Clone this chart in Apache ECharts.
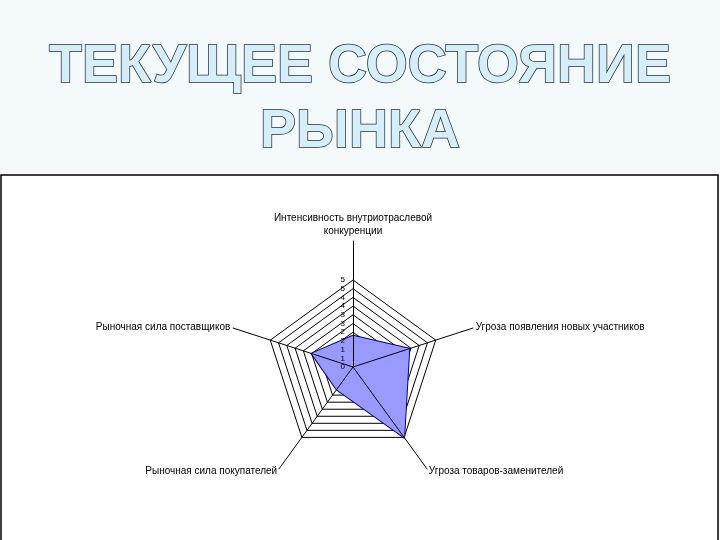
<!DOCTYPE html>
<html>
<head>
<meta charset="utf-8">
<script src="https://cdn.jsdelivr.net/npm/echarts@6/dist/echarts.min.js"></script>
<style>
html,body{margin:0;padding:0;background:#f4fafc;}
#c{width:720px;height:540px;}
</style>
</head>
<body>
<div id="c"></div>
<script>
// Data in Excel's clockwise order starting from the top
const titleText = 'ТЕКУЩЕЕ СОСТОЯНИЕ\nРЫНКА';
const categories = [
  'Интенсивность внутриотраслевой\nконкуренции',
  'Угроза появления новых участников',
  'Угроза товаров-заменителей',
  'Рыночная сила покупателей',
  'Рыночная сила поставщиков'
];
const values = [1.8, 3.4, 5, 1.6, 2.5];
const axisMax = 5;
const ringStep = 0.5;

// ECharts radar runs counter-clockwise: keep the first, reverse the rest
const order = [0, 4, 3, 2, 1];
const ccwNames = order.map(i => categories[i]);
const ccwValues = order.map(i => values[i]);

const chart = echarts.init(document.getElementById('c'));
const font = 'Liberation Sans, Arial, sans-serif';
const center = [353, 367];
const innerR = 87;

chart.setOption({
  backgroundColor: '#f4fafc',
  animation: false,
  title: {
    text: titleText,
    left: 'center',
    top: 30,
    textStyle: {
      fontFamily: font,
      fontSize: 54,
      fontWeight: 'bold',
      lineHeight: 65,
      color: '#d6eef9',
      textBorderColor: '#1b2735',
      textBorderWidth: 1.5,
      textShadowColor: 'rgba(70,80,95,0.9)',
      textShadowOffsetX: 3,
      textShadowOffsetY: 3,
      textShadowBlur: 0
    }
  },
  graphic: [{
    type: 'rect',
    z: -10,
    shape: {x: 1, y: 175, width: 717, height: 380},
    style: {fill: '#ffffff', stroke: '#000000', lineWidth: 1.5}
  }],
  radar: [
    {
      // outer spokes and category names, drawn over the filled area
      z: 5,
      center: center,
      radius: 126,
      shape: 'polygon',
      indicator: ccwNames.map(n => ({name: n, max: axisMax})),
      splitNumber: 1,
      axisName: {
        color: '#000',
        fontFamily: font,
        fontSize: 10,
        lineHeight: 13
      },
      nameGap: 3,
      axisLine: {lineStyle: {color: '#000', width: 1}},
      splitLine: {show: false},
      splitArea: {show: false},
      axisLabel: {show: false},
      axisTick: {show: false}
    },
    {
      // value rings, beneath the filled area
      z: 0,
      center: center,
      radius: innerR,
      shape: 'polygon',
      indicator: ccwNames.map(n => ({name: n, max: axisMax, min: 0})),
      splitNumber: axisMax / ringStep,
      axisName: {show: false},
      axisLine: {show: false},
      splitLine: {lineStyle: {color: '#000', width: 1}},
      splitArea: {show: false},
      axisLabel: {show: false},
      axisTick: {show: false}
    },
    {
      // value labels on the first axis, over the filled area
      z: 6,
      center: center,
      radius: innerR,
      shape: 'polygon',
      indicator: ccwNames.map((n, i) => ({
        name: n, max: axisMax, min: 0,
        axisLabel: i === 0 ? {
          show: true, color: '#000', fontFamily: font, fontSize: 8,
          lineHeight: 7, padding: 0, margin: 8,
          showMinLabel: true, showMaxLabel: true, hideOverlap: false,
          formatter: v => String(Math.round(v))
        } : {show: false}
      })),
      splitNumber: axisMax / ringStep,
      axisName: {show: false},
      axisLine: {show: false},
      splitLine: {show: false},
      splitArea: {show: false},
      axisTick: {show: false}
    }
  ],
  series: [{
    type: 'radar',
    radarIndex: 1,
    symbol: 'none',
    z: 2,
    lineStyle: {color: '#000080', width: 2},
    areaStyle: {color: '#9999ff', opacity: 1},
    data: [{value: ccwValues}]
  }]
});
</script>
</body>
</html>
